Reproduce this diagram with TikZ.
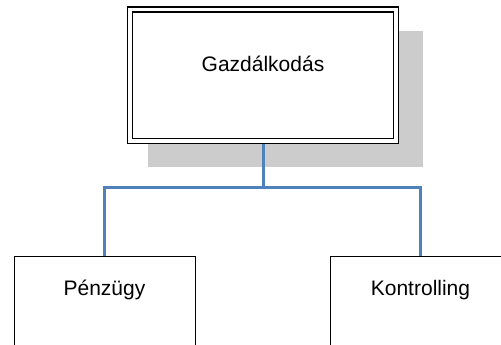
\documentclass[tikz,border=0pt]{standalone}
\usepackage{fontspec}
\setmainfont{Liberation Sans}
\usepackage{tikz}
\usetikzlibrary{backgrounds}
\definecolor{linkblue}{RGB}{79,129,189}
\definecolor{shadowgray}{RGB}{204,204,204}

\begin{document}
\begin{tikzpicture}[
  x=1pt, y=-1pt,
  font=\fontsize{21}{25}\selectfont,
  headbox/.style={draw, double, line width=1.4pt, double distance=3.4pt, fill=white,
    inner sep=0pt, outer sep=0pt, minimum width=266pt, minimum height=131.5pt,
    text height=15pt, text depth=23pt},
  unitbox/.style={draw, line width=1pt, fill=white, inner sep=0pt, outer sep=0pt,
    minimum width=181pt, minimum height=100pt, text height=15pt, text depth=37pt},
  link/.style={linkblue, line width=3pt}
]
\useasboundingbox (0,0) rectangle (501,345);
\clip (0,0) rectangle (501,345);

\node[headbox] (gazd) at (263,75.25) {Gazdálkodás};
\node[unitbox] (penz) at (104.5,306) {Pénzügy};
\node[unitbox] (kontr) at (420.5,306) {Kontrolling};
\coordinate (fork) at (263,187);

\begin{scope}[on background layer]
  % shadow behind the head box
  \fill[shadowgray] (148,31) rectangle (423,167);
  \draw[link] (gazd.south) -- (fork);
  \draw[link] (fork) -| (penz.north);
  \draw[link] (fork) -| (kontr.north);
\end{scope}
\end{tikzpicture}
\end{document}
